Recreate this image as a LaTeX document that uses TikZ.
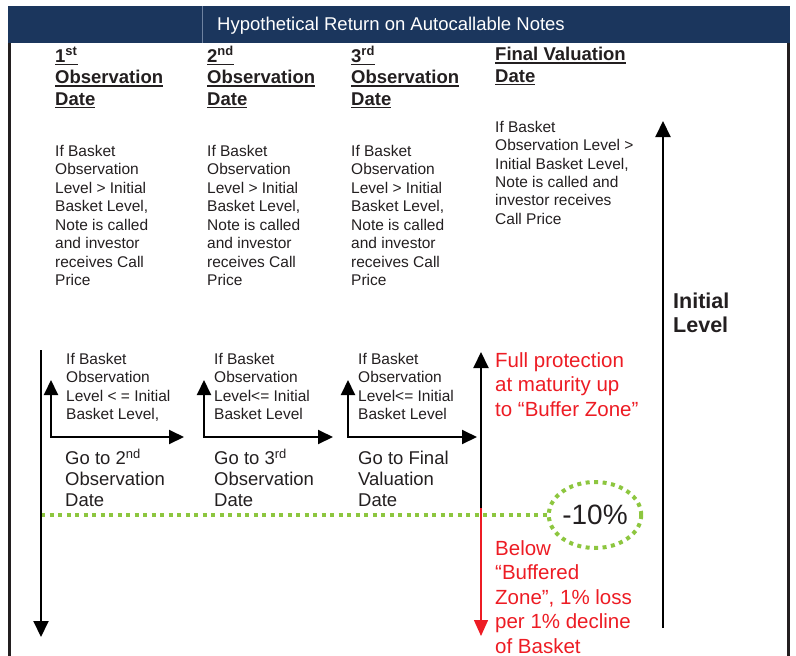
\documentclass[tikz,border=0pt]{standalone}
\usepackage{fontspec}
\setmainfont{Liberation Sans}
\usepackage{xcolor}
\usepackage{tikz}
\usetikzlibrary{arrows.meta,shapes.geometric}
\definecolor{navy}{RGB}{27,54,93}
\definecolor{barline}{RGB}{110,130,160}
\definecolor{txtgray}{RGB}{35,31,32}
\definecolor{buffred}{RGB}{237,28,36}
\definecolor{buffgreen}{RGB}{141,198,63}
\newcommand{\hdrul}[1]{\setbox0\hbox{#1}\rlap{\rule[-3pt]{\wd0}{1.5pt}}\box0}

\begin{document}
\begin{tikzpicture}[x=1pt,y=-1pt,
  every node/.style={inner sep=0pt,text=txtgray,align=left},
  hdr/.style={anchor=base west,font=\fontsize{18.5}{21.5}\selectfont\bfseries},
  called/.style={anchor=base west,font=\fontsize{15.5}{18.5}\selectfont},
  gonext/.style={anchor=base west,font=\fontsize{18.5}{21}\selectfont},
  redtxt/.style={anchor=base west,text=buffred,font=\fontsize{20.5}{24.4}\selectfont},
  bigarrow/.style={line width=2pt,-{Triangle[length=16pt,width=15pt]}},
  smallarrow/.style={line width=2pt,{Triangle[length=15pt,width=14pt]}-{Triangle[length=15pt,width=14pt]}},
  greendots/.style={buffgreen,line width=4pt,dash pattern=on 4pt off 4.5pt}]
\useasboundingbox (0,0) rectangle (796,656);
\fill[navy] (8,6) rectangle (790,43);
\draw[barline,line width=1pt] (202,6) -- (202,43);
\node[anchor=base west,text=white,font=\fontsize{18.5}{22}\selectfont] (title) at (217,30) {Hypothetical Return on Autocallable Notes};
\draw[txtgray,line width=3pt] (9.5,43) -- (9.5,656);
\draw[txtgray,line width=3pt] (788.5,43) -- (788.5,656);

\node[hdr] (obs1) at (55,105) {\hdrul{1\textsuperscript{st}}\\\hdrul{Observation}\\\hdrul{Date}};
\node[hdr] (obs2) at (207,105) {\hdrul{2\textsuperscript{nd}}\\\hdrul{Observation}\\\hdrul{Date}};
\node[hdr] (obs3) at (351,105) {\hdrul{3\textsuperscript{rd}}\\\hdrul{Observation}\\\hdrul{Date}};
\node[hdr] (finval) at (495,82) {\hdrul{Final Valuation}\\\hdrul{Date}};

\node[called] (call1) at (55,285.5) {If Basket\\Observation\\Level > Initial\\Basket Level,\\Note is called\\and investor\\receives Call\\Price};
\node[called] (call2) at (207,285.5) {If Basket\\Observation\\Level > Initial\\Basket Level,\\Note is called\\and investor\\receives Call\\Price};
\node[called] (call3) at (351,285.5) {If Basket\\Observation\\Level > Initial\\Basket Level,\\Note is called\\and investor\\receives Call\\Price};
\node[called,font=\fontsize{15.5}{18.3}\selectfont] (callfin) at (495,224) {If Basket\\Observation Level >\\Initial Basket Level,\\Note is called and\\investor receives\\Call Price};

\node[called] (stay1) at (66,419.5) {If Basket\\Observation\\Level < = Initial\\Basket Level,};
\node[called] (stay2) at (214,419.5) {If Basket\\Observation\\Level<= Initial\\Basket Level};
\node[called] (stay3) at (358,419.5) {If Basket\\Observation\\Level<= Initial\\Basket Level};

\node[gonext] (go1) at (65,506.5) {Go to 2\textsuperscript{nd}\\Observation\\Date};
\node[gonext] (go2) at (214,506.5) {Go to 3\textsuperscript{rd}\\Observation\\Date};
\node[gonext] (go3) at (358,506.5) {Go to Final\\Valuation\\Date};

\node[redtxt] (protect) at (495,416) {Full protection\\at maturity up\\to “Buffer Zone”};
\node[redtxt] (loss) at (495,653) {Below\\“Buffered\\Zone”, 1\% loss\\per 1\% decline\\of Basket};
\node[anchor=base west,font=\fontsize{21.5}{24}\selectfont\bfseries] (initlvl) at (673,332) {Initial\\Level};

\node[ellipse,draw=buffgreen,line width=4pt,dash pattern=on 4pt off 4.5pt,minimum width=80pt,minimum height=66pt,font=\fontsize{28}{30}\selectfont] (tenpct) at (595,515) {-10\%};

\coordinate (lvlstart) at (41,515);
\draw[greendots] (lvlstart) -- (tenpct.west);

\coordinate (lefttop) at (41,350);
\coordinate (leftend) at (41,637);
\draw[bigarrow] (lefttop) -- (leftend);

\coordinate (initbot) at (663,628);
\coordinate (inittop) at (663,121);
\draw[bigarrow] (initbot) -- (inittop);

\coordinate (fintop) at (481,352);
\coordinate (finmid) at (481,508);
\coordinate (finend) at (481,636);
\draw[bigarrow] (finmid) -- (fintop);
\draw[line width=1.5pt,buffred,-{Triangle[length=16pt,width=14pt]}] (finmid) -- (finend);

\coordinate (up1) at (51,380);
\coordinate (right1) at (184,437);
\draw[smallarrow] (up1) |- (right1);
\coordinate (up2) at (204,380);
\coordinate (right2) at (333,437);
\draw[smallarrow] (up2) |- (right2);
\coordinate (up3) at (348,380);
\coordinate (right3) at (477,437);
\draw[smallarrow] (up3) |- (right3);
\end{tikzpicture}
\end{document}
